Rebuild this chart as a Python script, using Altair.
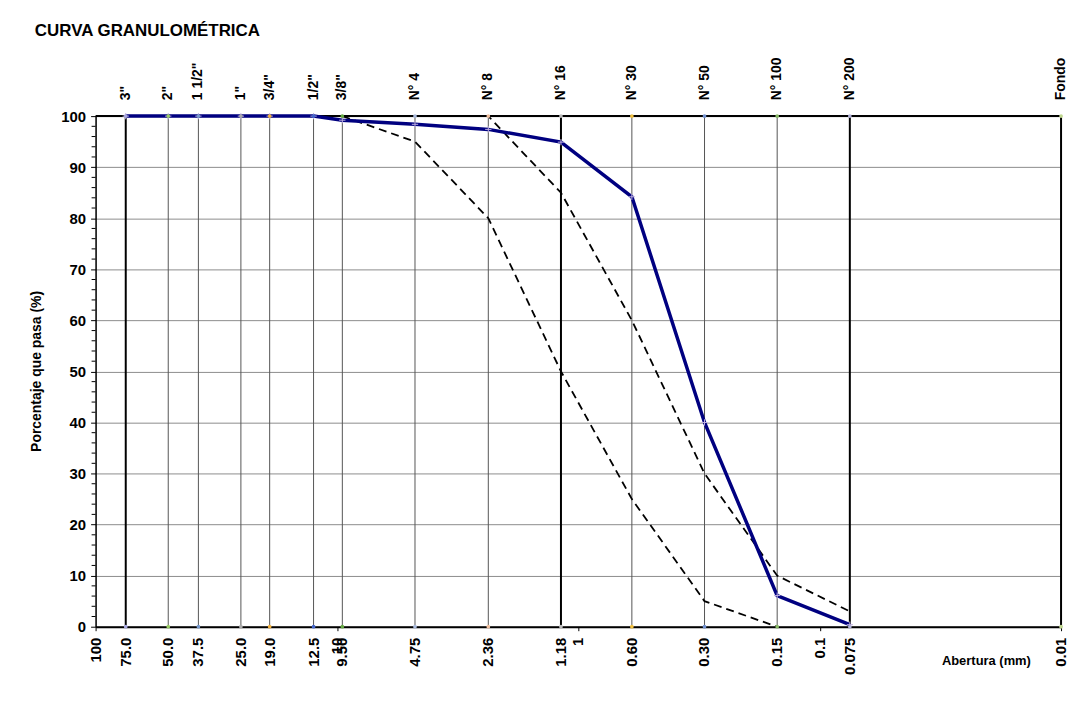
import altair as alt
import pandas as pd

# ---------------- data ----------------
sieve_names = ['3"', '2"', '1 1/2"', '1"', '3/4"', '1/2"', '3/8"', 'N° 4', 'N° 8',
               'N° 16', 'N° 30', 'N° 50', 'N° 100', 'N° 200', 'Fondo']
openings = [75.0, 50.0, 37.5, 25.0, 19.0, 12.5, 9.5, 4.75, 2.36, 1.18, 0.60, 0.30,
            0.15, 0.075, 0.01]
heavy_lines = [75.0, 1.18, 0.075, 0.01]

sample_x = [75.0, 50.0, 37.5, 25.0, 19.0, 12.5, 9.5, 4.75, 2.36, 1.18, 0.60, 0.30, 0.15, 0.075]
sample_y = [100, 100, 100, 100, 100, 100, 99.2, 98.4, 97.4, 94.9, 84.2, 40.0, 6.1, 0.4]

upper_x = [9.5, 4.75, 2.36, 1.18, 0.60, 0.30, 0.15, 0.075]
upper_y = [100, 100, 100, 85, 60, 30, 10, 3]

lower_x = [9.5, 4.75, 2.36, 1.18, 0.60, 0.30, 0.15]
lower_y = [100, 95, 80, 50, 25, 5, 0]

bottom_vals = [100, 75.0, 50.0, 37.5, 25.0, 19.0, 12.5, 10, 9.5, 4.75, 2.36, 1.18, 1,
               0.60, 0.30, 0.15, 0.1, 0.075, 0.01]
bottom_text = ["100", "75.0", "50.0", "37.5", "25.0", "19.0", "12.5", "10", "9.50",
               "4.75", "2.36", "1.18", "1", "0.60", "0.30", "0.15", "0.1", "0.075", "0.01"]

decade_ticks = [100, 10, 1, 0.1, 0.01]
y_major = [0, 10, 20, 30, 40, 50, 60, 70, 80, 90, 100]
y_minor = [v for v in range(0, 101, 2) if v % 10 != 0]

marker_colors = ['#a8a8e0', '#99cc66', '#7799cc', '#aaaaaa', '#f0b040', '#4466cc',
                 '#66aa44', '#aabbdd', '#f0c0a0', '#bbbbbb', '#f0c040', '#7090d0',
                 '#88bb66', '#b0b0d8', '#c0d890']

# ---------------- chart ----------------
FONT = "Liberation Sans"
W, H = 970, 513

xs = alt.Scale(type="log", domain=[0.01, 100], reverse=True, nice=False)
ys = alt.Scale(domain=[0, 100], nice=False)

sieves = pd.DataFrame({"name": sieve_names, "opening": openings})
thin_df = sieves[~sieves["opening"].isin(heavy_lines)]
thick_df = sieves[sieves["opening"].isin(heavy_lines)]
sample = pd.DataFrame({"x": sample_x, "y": sample_y})
upper = pd.DataFrame({"x": upper_x, "y": upper_y})
lower = pd.DataFrame({"x": lower_x, "y": lower_y})
bottom = pd.DataFrame({"v": bottom_vals, "t": bottom_text})
minor = pd.DataFrame({"y": y_minor})
one = pd.DataFrame({"k": [0]})
edge_markers = pd.concat([
    sieves.assign(y=100),
    sieves.assign(y=0),
])

x_axis = alt.Axis(values=decade_ticks, labels=False, grid=False, ticks=True, tickSize=4,
                  tickColor="black", domainColor="black", domainWidth=2, title=None)
y_axis = alt.Axis(values=y_major, labelFont=FONT, labelFontSize=15, labelFontWeight="bold",
                  labelColor="black", grid=True, gridColor="#8c8c8c", gridWidth=1,
                  domainColor="black", domainWidth=1.5, tickColor="black", tickSize=5,
                  labelPadding=5, title=None)

thin_rules = alt.Chart(thin_df).mark_rule(color="#555555", strokeWidth=1).encode(
    x=alt.X("opening:Q", scale=xs, axis=x_axis))
thick_rules = alt.Chart(thick_df).mark_rule(color="black", strokeWidth=2).encode(
    x=alt.X("opening:Q", scale=xs))
top_border = alt.Chart(one).mark_rule(color="black", strokeWidth=2).encode(
    x=alt.value(0), x2=alt.value(W), y=alt.value(0))
minor_ticks = alt.Chart(minor).mark_rule(color="black", strokeWidth=1).encode(
    x=alt.value(-4), x2=alt.value(0), y=alt.Y("y:Q", scale=ys))

lower_line = alt.Chart(lower).mark_line(color="black", strokeWidth=1.8, strokeDash=[8, 5]).encode(
    x=alt.X("x:Q", scale=xs), y=alt.Y("y:Q", scale=ys))
upper_line = alt.Chart(upper).mark_line(color="black", strokeWidth=1.8, strokeDash=[8, 5]).encode(
    x=alt.X("x:Q", scale=xs), y=alt.Y("y:Q", scale=ys))
sample_line = alt.Chart(sample).mark_line(color="#000080", strokeWidth=3.5).encode(
    x=alt.X("x:Q", scale=xs), y=alt.Y("y:Q", scale=ys, axis=y_axis))
sample_pts = alt.Chart(sample).mark_point(
    shape="M-1,0L1,0M0,-1L0,1", size=40, color="#c0b0e0", strokeWidth=1, filled=False,
    opacity=1).encode(x=alt.X("x:Q", scale=xs), y=alt.Y("y:Q", scale=ys))
edge_pts = alt.Chart(edge_markers).mark_point(size=14, filled=True, opacity=1).encode(
    x=alt.X("opening:Q", scale=xs), y=alt.Y("y:Q", scale=ys),
    color=alt.Color("name:N", scale=alt.Scale(domain=sieve_names, range=marker_colors),
                    legend=None))

top_labels = alt.Chart(sieves).mark_text(
    angle=270, align="left", baseline="middle", font=FONT, fontSize=14,
    fontWeight="bold", color="black").encode(
    x=alt.X("opening:Q", scale=xs), y=alt.value(-16), text="name:N")
bottom_labels = alt.Chart(bottom).mark_text(
    angle=270, align="right", baseline="middle", font=FONT, fontSize=15,
    fontWeight="bold", color="black").encode(
    x=alt.X("v:Q", scale=xs), y=alt.value(H + 11), text="t:N")

x_title = alt.Chart(one).mark_text(
    text="Abertura (mm)", font=FONT, fontSize=13, fontWeight="bold", color="black",
    align="center", baseline="middle").encode(x=alt.value(895), y=alt.value(H + 34))
y_title = alt.Chart(one).mark_text(
    text="Porcentaje que pasa (%)", font=FONT, fontSize=14, fontWeight="bold",
    color="black", angle=270, align="center", baseline="middle").encode(
    x=alt.value(-59), y=alt.value(H / 2))
main_title = alt.Chart(one).mark_text(
    text="CURVA GRANULOMÉTRICA", font=FONT, fontSize=17, fontWeight="bold",
    color="black", align="left", baseline="middle").encode(
    x=alt.value(-61), y=alt.value(-85))

chart = alt.layer(
    thin_rules, thick_rules, top_border, minor_ticks,
    lower_line, upper_line, sample_line, sample_pts, edge_pts,
    top_labels, bottom_labels, x_title, y_title, main_title,
).properties(
    width=W, height=H,
    autosize=alt.AutoSizeParams(type="none"),
    padding={"left": 88, "top": 107, "right": 10, "bottom": 70},
).configure_view(stroke=None).configure(background="white")

chart.save("out.html", embed_options={"renderer": "svg", "actions": False})
